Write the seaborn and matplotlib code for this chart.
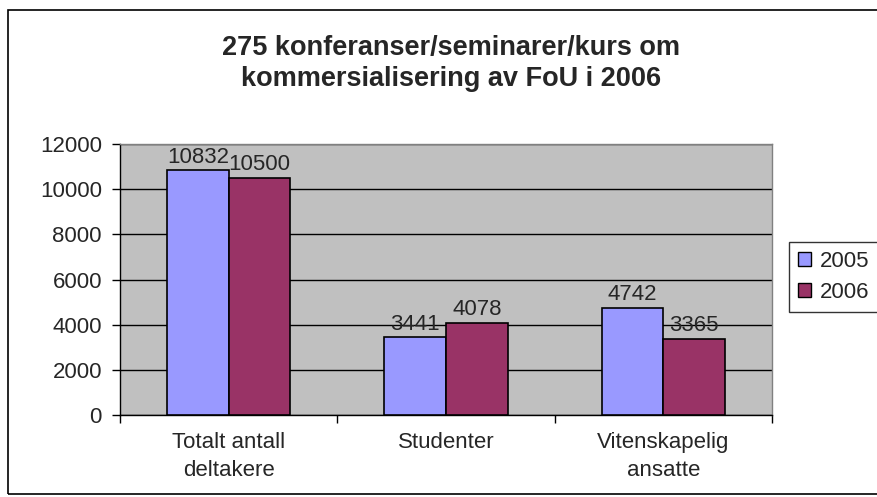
import matplotlib
matplotlib.use("Agg")
import matplotlib.pyplot as plt
import seaborn as sns
import pandas as pd
from matplotlib.patches import Rectangle

categories = ["Totalt antall\ndeltakere", "Studenter", "Vitenskapelig\nansatte"]
years = ["2005", "2006"]
values_2005 = [10832, 3441, 4742]
values_2006 = [10500, 4078, 3365]
yticks = [0, 2000, 4000, 6000, 8000, 10000, 12000]
title = "275 konferanser/seminarer/kurs om\nkommersialisering av FoU i 2006"

df = pd.DataFrame({
    "cat": categories * 2,
    "year": [years[0]] * 3 + [years[1]] * 3,
    "val": values_2005 + values_2006,
})

sns.set_style("white")
plt.rcParams["font.family"] = ["Liberation Sans", "DejaVu Sans"]

FS = 16

fig = plt.figure(figsize=(8.77, 4.97), dpi=100)
ax = fig.add_axes([120/877, 1 - 415/497, (772-120)/877, (415-144)/497])
ax.set_facecolor("#C0C0C0")

sns.barplot(data=df, x="cat", y="val", hue="year", order=categories, hue_order=years,
            palette={"2005": "#9999FF", "2006": "#993366"}, width=0.566, gap=0,
            edgecolor="black", linewidth=1.2, saturation=1, ax=ax, zorder=3)

for cont in ax.containers:
    ax.bar_label(cont, fontsize=FS, padding=2)

ax.set_ylim(0, 12000)
ax.set_yticks(yticks)
ax.set_yticklabels([str(t) for t in yticks], fontsize=FS)
ax.yaxis.grid(True, color="black", linewidth=1)
ax.set_axisbelow(True)
ax.tick_params(axis="y", direction="out", length=6, width=1, left=True, color="black", pad=7)
ax.set_xlim(-0.5, 2.5)
ax.tick_params(axis="x", length=0, pad=12, labelsize=FS)
for lbl in ax.get_xticklabels():
    lbl.set_linespacing(1.45)
ax.set_xticks([-0.5, 0.5, 1.5, 2.5], minor=True)
ax.tick_params(axis="x", which="minor", direction="out", length=6, width=1, color="black", bottom=True)
ax.set_xlabel("")
ax.set_ylabel("")

for s in ["top", "right"]:
    ax.spines[s].set_color("#808080")
    ax.spines[s].set_linewidth(1)
for s in ["left", "bottom"]:
    ax.spines[s].set_color("black")
    ax.spines[s].set_linewidth(1)

leg = ax.legend(loc="upper left", bbox_to_anchor=(789/877, 1 - 242/497), bbox_transform=fig.transFigure,
                borderaxespad=0, frameon=True, fontsize=FS, handlelength=0.6, handleheight=0.6,
                handletextpad=0.4, borderpad=0.4, labelspacing=0.45, fancybox=False, edgecolor="black")
leg.get_frame().set_linewidth(1)
leg.get_frame().set_facecolor("white")
for h in leg.legend_handles:
    h.set_edgecolor("black")
    h.set_linewidth(1)

fig.text(451/877, 1 - 64/497, title, ha="center", va="center", fontsize=19.5,
         fontweight="bold", linespacing=1.25)

fig.patches.append(Rectangle((8/877, 1 - 494/497), 1.2, (494-10)/497, transform=fig.transFigure,
                             fill=False, edgecolor="black", linewidth=1.2, clip_on=False))

fig.savefig("out.png", dpi=100)
